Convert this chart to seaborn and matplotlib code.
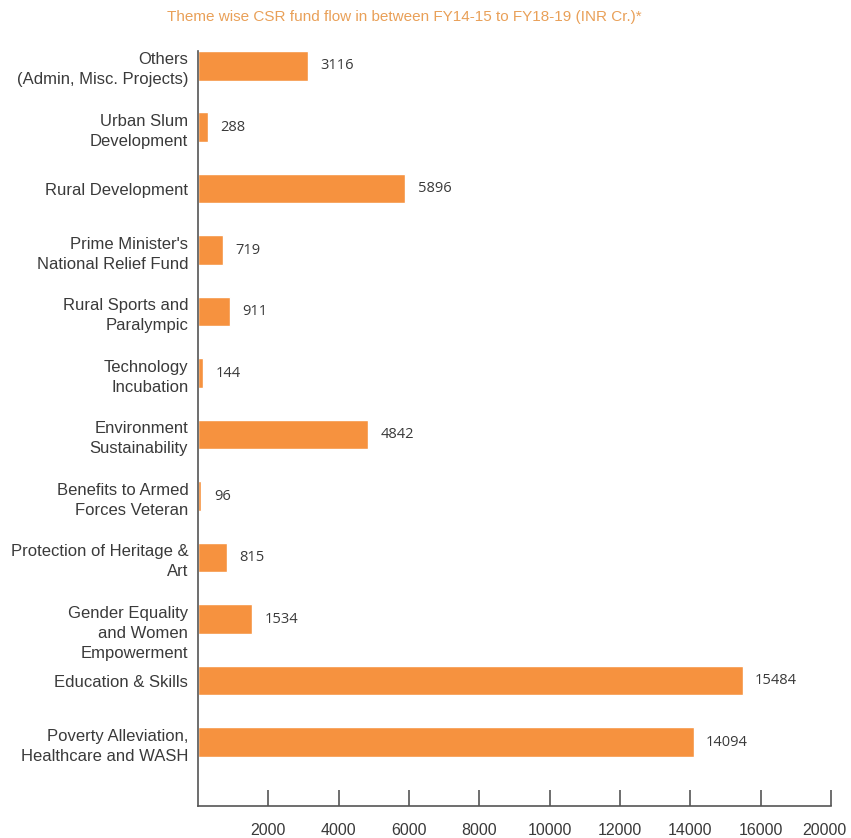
import matplotlib
matplotlib.use("Agg")
import matplotlib.pyplot as plt
from matplotlib.transforms import ScaledTranslation
import seaborn as sns
import pandas as pd

# Theme-wise CSR spend, FY14-15 to FY18-19 (INR Cr.)
themes = [
    "Others\n(Admin, Misc. Projects)",
    "Urban Slum\nDevelopment",
    "Rural Development",
    "Prime Minister's\nNational Relief Fund",
    "Rural Sports and\nParalympic",
    "Technology\nIncubation",
    "Environment\nSustainability",
    "Benefits to Armed\nForces Veteran",
    "Protection of Heritage &\nArt",
    "Gender Equality\nand Women\nEmpowerment",
    "Education & Skills",
    "Poverty Alleviation,\nHealthcare and WASH",
]
funds = [3116, 288, 5896, 719, 911, 144, 4842, 96, 815, 1534, 15484, 14094]

tick_values = [2000, 4000, 6000, 8000, 10000, 12000, 14000, 16000, 18000]
tick_labels = ["2000", "4000", "6000", "8000", "10000", "12000", "14000", "16000", "20000"]

title = "Theme wise CSR fund flow in between FY14-15 to FY18-19 (INR Cr.)*"

BAR = "#F6923F"
TEXT = "#3a3a3a"
AXIS = "#555555"
TITLE = "#E9A058"

df = pd.DataFrame({"theme": themes, "fund": funds})

sns.set_theme(style="white")
plt.rcParams["font.family"] = ["Liberation Sans", "DejaVu Sans"]

fig = plt.figure(figsize=(8.51, 8.38), dpi=100)
ax = fig.add_axes([198 / 851, 1 - 806 / 838, (831 - 198) / 851, (806 - 51) / 838])

sns.barplot(data=df, x="fund", y="theme", orient="h", color=BAR,
            saturation=1, width=0.48, ax=ax)

ax.bar_label(ax.containers[0], labels=[str(v) for v in funds],
             padding=9, fontsize=10.5, color=TEXT,
             family=["Open Sans", "DejaVu Sans"])

ax.set_xlim(0, 18000)
ax.set_ylim(12.04, -0.24)

ax.set_xticks(tick_values, tick_labels)
ax.tick_params(axis="x", direction="in", length=11.5, width=1.2, color=AXIS,
               labelsize=11.5, labelcolor=TEXT, pad=12, bottom=True)
ax.tick_params(axis="y", length=0, labelsize=12, labelcolor=TEXT, pad=7)

ax.set_xlabel("")
ax.set_ylabel("")

# last x label is nudged left so it stays inside the figure
xlabels = ax.get_xticklabels()
xlabels[-1].set_transform(xlabels[-1].get_transform()
                          + ScaledTranslation(-7 / 100, 0, fig.dpi_scale_trans))

# the three-line label sits a little below its bar
shift = ScaledTranslation(0, -10 / 100, fig.dpi_scale_trans)
for lbl in ax.get_yticklabels():
    lbl.set_linespacing(1.42)
    lbl.set_horizontalalignment("right")
    if lbl.get_text().startswith("Gender"):
        lbl.set_transform(lbl.get_transform() + shift)

for side in ("top", "right"):
    ax.spines[side].set_visible(False)
for side in ("left", "bottom"):
    ax.spines[side].set_color(AXIS)
    ax.spines[side].set_linewidth(1.2)

fig.text(404 / 851, 1 - 17 / 838, title, ha="center", va="center",
         fontsize=11, color=TITLE)

fig.savefig("out.png", dpi=100, facecolor="white")
